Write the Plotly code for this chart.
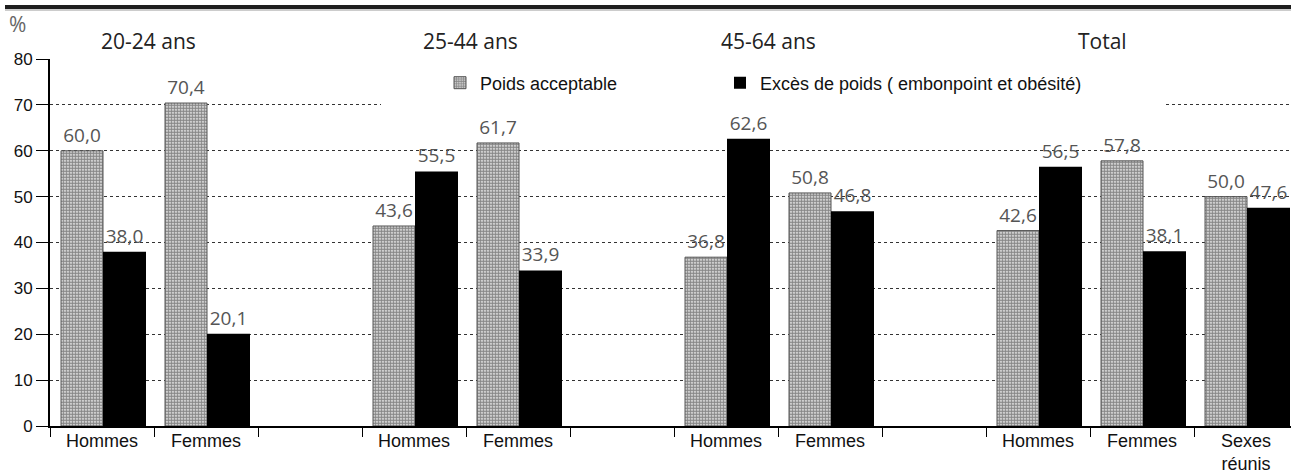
import plotly.graph_objects as go

# ---- data ----
slot_labels = ["Hommes", "Femmes", "", "Hommes", "Femmes", "", "Hommes", "Femmes", "",
               "Hommes", "Femmes", "Sexes<br>réunis"]
poids_acceptable = [60.0, 70.4, None, 43.6, 61.7, None, 36.8, 50.8, None, 42.6, 57.8, 50.0]
exces_poids = [38.0, 20.1, None, 55.5, 33.9, None, 62.6, 46.8, None, 56.5, 38.1, 47.6]
group_titles = ["20-24 ans", "25-44 ans", "45-64 ans", "Total"]
y_ticks = [0, 10, 20, 30, 40, 50, 60, 70, 80]
series_names = ["Poids acceptable", "Excès de poids ( embonpoint et obésité)"]

W, H = 1291, 474
L, R, T, B = 50, 0, 59, 48
PH = H - T - B
slot_px = 104.0
xs = list(range(len(slot_labels)))
x_max = -0.5 + (W - L - R) / slot_px


def px_to_x(px):
    return (px - L) / slot_px - 0.5


val_font = dict(family="Open Sans", size=19, color="#555555")

fig = go.Figure()
fig.add_trace(go.Bar(
    x=xs, y=poids_acceptable, name=series_names[0], legend="legend",
    offset=11 / slot_px - 0.5, width=42 / slot_px,
    marker=dict(color="white", line=dict(color="#555555", width=1),
                pattern=dict(shape=".", fgcolor="#111111", bgcolor="white",
                             size=3, solidity=0.75)),
    texttemplate="%{y:.1f}", textposition="outside", textfont=val_font,
    cliponaxis=False,
))
fig.add_trace(go.Bar(
    x=xs, y=exces_poids, name=series_names[1], legend="legend2",
    offset=53 / slot_px - 0.5, width=43 / slot_px,
    marker=dict(color="black", line=dict(color="black", width=0)),
    texttemplate="%{y:.1f}", textposition="outside", textfont=val_font,
    cliponaxis=False,
))

# group titles
title_px = [148, 470, 768, 1102]
for tp, gt in zip(title_px, group_titles):
    fig.add_annotation(x=px_to_x(tp), y=(H - B - 41) / PH, xref="x", yref="paper",
                       text=gt, showarrow=False, yanchor="middle",
                       font=dict(family="Open Sans", size=21, color="#222222"))

fig.add_annotation(x=(17 - L) / (W - L), y=(H - B - 24) / PH, xref="paper", yref="paper",
                   text="%", showarrow=False, xanchor="center", yanchor="middle",
                   font=dict(family="Open Sans", size=21, color="#666666"))

# thick rule at top
fig.add_shape(type="line", xref="paper", yref="paper",
              x0=(5 - L) / (W - L), x1=1, y0=(H - B - 7) / PH, y1=(H - B - 7) / PH,
              line=dict(color="#1e1e1e", width=4))
fig.add_shape(type="line", xref="paper", yref="paper",
              x0=(5 - L) / (W - L), x1=1, y0=(H - B - 10) / PH, y1=(H - B - 10) / PH,
              line=dict(color="#9a9a9a", width=1))
# white area behind legend, interrupting the 70 gridline
fig.add_shape(type="rect", xref="x", yref="y", layer="between",
              x0=px_to_x(381), x1=px_to_x(1163),
              y0=69.3, y1=79.2, fillcolor="white", line=dict(width=0))

leg_common = dict(orientation="h", y=(H - B - 83) / PH, xanchor="left", yanchor="middle",
                  font=dict(family="Liberation Sans", size=18, color="#111111"),
                  bgcolor="rgba(0,0,0,0)", itemwidth=30)

fig.update_layout(
    width=W, height=H,
    margin=dict(l=L, r=R, t=T, b=B, autoexpand=False),
    plot_bgcolor="white", paper_bgcolor="white",
    barmode="overlay",
    separators=", ",
    showlegend=True,
    legend=dict(x=(440 - L) / (W - L), **leg_common),
    legend2=dict(x=(720 - L) / (W - L), **leg_common),
    font=dict(family="Liberation Sans", color="black"),
    xaxis=dict(range=[-0.5, x_max], tickvals=xs, ticktext=slot_labels,
               ticks="", showgrid=False, zeroline=False, automargin=False,
               showline=True, linecolor="black", linewidth=2, layer="below traces",
               ticklabelstandoff=-3,
               tickfont=dict(family="Liberation Sans", size=18, color="#111111"),
               minor=dict(tick0=-0.5, dtick=1, ticks="outside", ticklen=9,
                          tickcolor="black", tickwidth=1, showgrid=False)),
    yaxis=dict(range=[0, 80], tickvals=y_ticks, ticks="outside", ticklen=12,
               tickcolor="black", tickwidth=1, automargin=False,
               showline=True, linecolor="black", linewidth=2,
               showgrid=True, gridcolor="#333333", gridwidth=1, griddash="3px,3px",
               zeroline=False,
               tickfont=dict(family="Liberation Sans", size=17, color="#111111")),
)

fig.write_html("out.html",
               config={"displayModeBar": False},
               post_script="document.body.style.margin='0';document.body.style.overflow='hidden';")
